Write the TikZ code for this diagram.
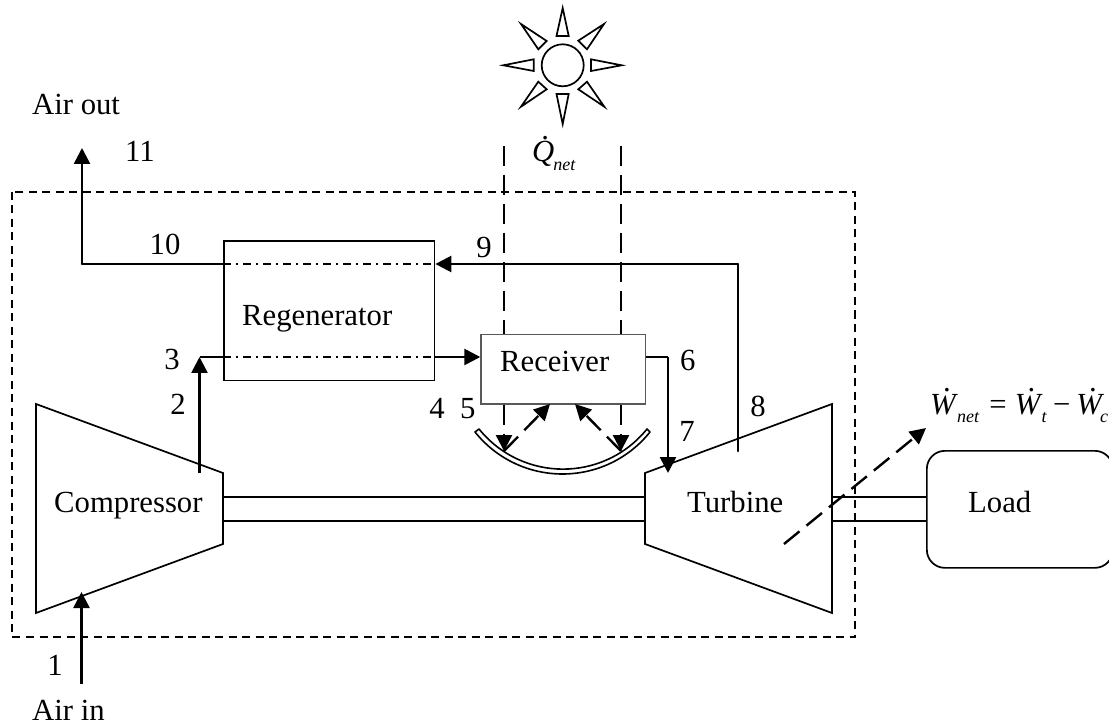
\documentclass[tikz,border=0pt]{standalone}
\usepackage{fontspec}
\usepackage{amsmath}
\setmainfont{Liberation Serif}
\usetikzlibrary{arrows.meta}
\newcommand{\dotit}[2]{\leavevmode\rlap{\kern#1\raisebox{0.72em}{\upshape.}}\textit{#2}}
\newcommand{\subit}[1]{\raisebox{-0.28em}{\fontsize{18}{20}\selectfont\textit{#1}}}
\tikzset{
  x=1pt,y=-1pt,
  lbl/.style={inner sep=0pt,font=\fontsize{30.7}{34}\selectfont},
  txt/.style={lbl,anchor=base west},
  num/.style={lbl,anchor=base},
  box/.style={draw,line width=1.7pt},
  shaft/.style={line width=1.6pt},
  flow/.style={line width=2.6pt},
  tip/.style={-{Triangle[length=16pt,width=16pt,sep=0pt]}},
  dd/.style={dash pattern=on 8pt off 5pt on 2pt off 5pt,line width=1.5pt},
  long/.style={dash pattern=on 20pt off 9pt,line width=2.4pt},
  frame/.style={dash pattern=on 8pt off 5.5pt,line width=1.6pt},
  ray/.style={draw,line width=1.7pt,line join=miter},
}
\begin{document}
\begin{tikzpicture}
\useasboundingbox (0,0) rectangle (1109,727);
% sun
\draw[line width=1.7pt] (562.7,65.3) circle[radius=21];
\draw[ray] (562.7,8) -- (556.5,36) -- (568.7,36) -- cycle;
\draw[ray] (562.7,124) -- (556.5,94) -- (568.7,94) -- cycle;
\draw[ray] (503.3,65.3) -- (533.7,59.3) -- (533.7,71) -- cycle;
\draw[ray] (621.7,65.3) -- (591,59.3) -- (591,71) -- cycle;
\draw[ray] (604,24) -- (578.3,40.7) -- (587,49.3) -- cycle;
\draw[ray] (521,24) -- (546.7,41) -- (538.3,49.3) -- cycle;
\draw[ray] (604.3,106.7) -- (578.3,89.3) -- (587,81.7) -- cycle;
\draw[ray] (521,106.7) -- (546.7,89.3) -- (538.3,81.7) -- cycle;
% frame
\draw[frame] (12,192) rectangle (855,637);
% boxes
\node[box,minimum width=210.4pt,minimum height=139.7pt,inner sep=0pt,anchor=north west] (regen) at (223.3,240) {};
\node[draw=black!65,line width=1.3pt,minimum width=164.4pt,minimum height=69.6pt,inner sep=0pt,anchor=north west] (recv) at (480.3,333.7) {};
\node[box,rounded corners=18pt,minimum width=186pt,minimum height=117pt,inner sep=0pt,anchor=north west] (load) at (926,450) {};
\draw[box,line join=miter] (36,404) -- (223,473) -- (223,544) -- (36,613) -- cycle;
\draw[box,line join=miter] (832,404) -- (645,473) -- (645,544) -- (832,613) -- cycle;
\coordinate (compR) at (223,497); \coordinate (turbL) at (645,497);
\coordinate (compRb) at (223,521); \coordinate (turbLb) at (645,521);
\coordinate (turbR) at (832,497); \coordinate (turbRb) at (832,521);
\draw[shaft] (compR) -- (turbL) (compRb) -- (turbLb);
\draw[shaft] (turbR) -- (load.west |- turbR) (turbRb) -- (load.west |- turbRb);
% flows
\coordinate (p11) at (82,148); \coordinate (p10) at (82,264);
\coordinate (p9) at (738,264); \coordinate (p8) at (738,451);
\coordinate (p2) at (199.5,473); \coordinate (p3) at (199.5,357);
\coordinate (p6) at (668,357); \coordinate (p7) at (668,473);
\coordinate (p1) at (81.5,684); \coordinate (p1t) at (81.5,592);
\draw[flow,tip] (p10) -- (p11);
\draw[flow,line cap=round] (p10) -- (p10 -| regen.west);
\draw[dd] (p10 -| regen.west) -- (p10 -| regen.east);
\draw[flow,tip] (p9) -- (p9 -| regen.east);
\draw[flow,line cap=round] (p9) -- (p8);
\draw[flow,tip] (p2) -- (p3);
\draw[line width=1.7pt] (p3) -- (p3 -| regen.west);
\draw[dd] (p3 -| regen.west) -- (p3 -| regen.east);
\draw[flow,tip] (p3 -| regen.east) -- (p3 -| recv.west);
\draw[flow] (p6 -| recv.east) -- (p6);
\draw[flow,tip] (p6) -- (p7);
\draw[flow,tip] (p1) -- (p1t);
% dish
\draw[line width=1.6pt,line join=round] (475,432) .. controls (520,488) and (605,488) .. (650,432) -- (647,429) .. controls (603.6,482.5) and (522.4,482.5) .. (479,429) -- cycle;
% dashed rays
\coordinate (q1) at (504,146); \coordinate (q2) at (621,146);
\coordinate (d1) at (504,451); \coordinate (d2) at (621,451);
\coordinate (r1) at (550,404); \coordinate (r2) at (575,404);
\draw[long] (q1) -- (q1 |- recv.north);
\draw[long] (q2) -- (q2 |- recv.north);
\draw[long,tip] (q1 |- recv.south) -- (d1);
\draw[long,tip] (q2 |- recv.south) -- (d2);
\draw[long,tip] (d1) -- (r1);
\draw[long,tip] (d2) -- (r2);
\coordinate (w1) at (784,544); \coordinate (w2) at (926,428);
\draw[long,tip] (w1) -- (w2);
% text
\node[txt] (tcomp) at (54,512) {Compressor};
\node[txt] (tregen) at (242,326) {Regenerator};
\node[txt] (trecv) at (500,372) {Receiver};
\node[txt] (tturb) at (687,512) {Turbine};
\node[txt] (tload) at (968,512) {Load};
\node[txt] (tout) at (32,115) {Air out};
\node[txt] (tin) at (32,720) {Air in};
\node[num] (n11) at (140,162) {11};
\node[num] (n10) at (165,255) {10};
\node[num] (n3) at (172,370) {3};
\node[num] (n2) at (178,414) {2};
\node[num] (n1) at (55,675) {1};
\node[num] (n4) at (437,418) {4};
\node[num] (n5) at (467.7,418) {5};
\node[num] (n6) at (687.7,371) {6};
\node[num] (n7) at (687,441) {7};
\node[num] (n8) at (758,417) {8};
\node[num] (n9) at (484,258) {9};
\node[txt] (tq) at (532,162) {\dotit{0.3em}{Q}\kern-1pt\subit{net}};
\node[txt] (tw) at (930,414) {\dotit{0.42em}{W}\kern-1pt\subit{net}\kern10pt=\kern8pt\dotit{0.42em}{W}\kern-1pt\subit{t}\kern6pt−\kern6pt\dotit{0.42em}{W}\kern-4pt\subit{c}};
\end{tikzpicture}
\end{document}
